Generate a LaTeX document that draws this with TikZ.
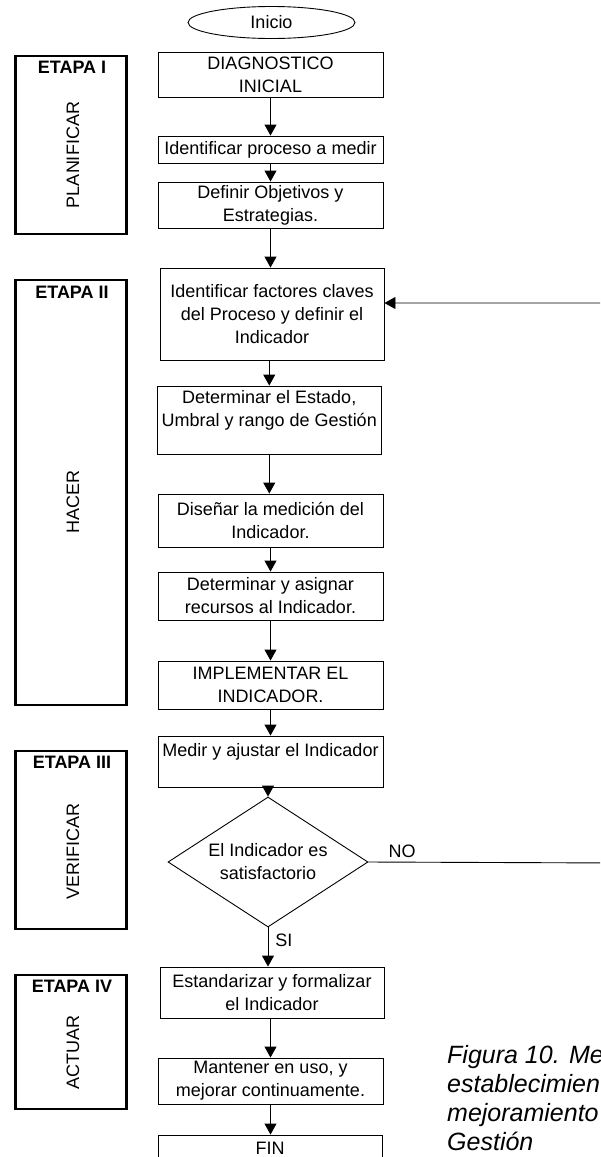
\documentclass[tikz,border=0pt]{standalone}
\usepackage{fontspec}
\setmainfont{Liberation Sans}
\usetikzlibrary{shapes.geometric,arrows.meta}
\begin{document}
\begin{tikzpicture}[x=1pt,y=-1pt,
  boxfont/.style={font=\fontsize{18}{23}\selectfont},
  flowbox/.style={draw, line width=0.9pt, rectangle, inner sep=1pt, align=center,
    boxfont, minimum width=225pt},
  stagebox/.style={draw, line width=2.7pt, minimum width=111pt},
  stagetitle/.style={font=\bfseries\fontsize{18}{22}\selectfont, inner sep=0pt},
  stagename/.style={rotate=90, font=\fontsize{18}{22}\selectfont, inner sep=0pt},
  flow/.style={line width=0.9pt, -{Triangle[length=11pt,width=12pt]}},
  ]
\useasboundingbox (0,0) rectangle (600,1157);
\clip (0,0) rectangle (600,1157);

% stage frames on the left
\node[stagebox, minimum height=178pt] (s1) at (71,145) {};
\node[stagetitle] (s1t) at (72,67) {ETAPA I};
\node[stagename] (s1n) at (73,155) {PLANIFICAR};

\node[stagebox, minimum height=425pt] (s2) at (71,492.5) {};
\node[stagetitle] (s2t) at (72,292) {ETAPA II};
\node[stagename] (s2n) at (73,502) {HACER};

\node[stagebox, minimum height=178pt] (s3) at (71,840) {};
\node[stagetitle] (s3t) at (72,762) {ETAPA III};
\node[stagename] (s3n) at (73,851) {VERIFICAR};

\node[stagebox, minimum height=134pt] (s4) at (71,1042) {};
\node[stagetitle] (s4t) at (72,986) {ETAPA IV};
\node[stagename] (s4n) at (73,1052) {ACTUAR};

% flow of activities
\node[ellipse, draw, line width=0.9pt, minimum width=167pt, minimum height=32pt,
  inner sep=0pt, boxfont] (inicio) at (271.5,22.5) {Inicio};
\node[flowbox, minimum height=45pt] (diag) at (270.5,74.5) {DIAGNOSTICO\\INICIAL};
\node[flowbox, minimum height=27pt] (ident) at (270.5,149.5) {Identificar proceso a medir};
\node[flowbox, minimum height=46pt] (obj) at (270.5,205) {Definir Objetivos y\\Estrategias.};
\node[flowbox, minimum width=224pt, minimum height=92pt] (fact) at (272,314)
  {Identificar factores claves\\del Proceso y definir el\\Indicador};
\node[flowbox, minimum width=224.5pt, minimum height=68pt] (estado) at (269.25,420)
  {Determinar el Estado,\\Umbral y rango de Gestión\\~};
\node[flowbox, minimum height=53pt] (disenar) at (270.5,520.5) {Diseñar la medición del\\Indicador.};
\node[flowbox, minimum height=48pt] (recursos) at (270.5,596) {Determinar y asignar\\recursos al Indicador.};
\node[flowbox, minimum height=48pt] (impl) at (270.5,685) {IMPLEMENTAR EL\\INDICADOR.};
\node[flowbox, minimum height=51pt] (medir) at (270.5,761.5) {Medir y ajustar el Indicador\\~};
\node[diamond, draw, line width=0.9pt, shape aspect=1.54, minimum width=200pt,
  minimum height=130pt, inner sep=0pt, align=center, boxfont] (dec) at (268,862)
  {El Indicador es\\satisfactorio};
\node[flowbox, minimum width=224pt, minimum height=51pt] (std) at (272,992.5)
  {Estandarizar y formalizar\\el Indicador};
\node[flowbox, minimum height=46pt] (mant) at (270.5,1081) {Mantener en uso, y\\mejorar continuamente.};
\node[flowbox, minimum width=224pt, minimum height=27pt] (fin) at (270,1148.5) {FIN};

% connectors
\draw[flow] (diag.south) -- (diag.south |- ident.north);
\draw[flow] (ident.south) -- (ident.south |- obj.north);
\draw[flow] (obj.south) -- (obj.south |- fact.north);
\draw[flow] (estado.north |- fact.south) -- (estado.north);
\draw[flow] (estado.south) -- (estado.south |- disenar.north);
\draw[flow] (disenar.south) -- (disenar.south |- recursos.north);
\draw[flow] (recursos.south) -- (recursos.south |- impl.north);
\draw[flow] (impl.south) -- (impl.south |- medir.north);
\draw[flow] (dec.north |- medir.south) -- (dec.north);
\draw[flow] (dec.south) -- (dec.south |- std.north)
  node[pos=0.33, anchor=west, inner sep=0pt, xshift=7pt, boxfont] (si) {SI};
\draw[flow] (mant.north |- std.south) -- (mant.north);
\draw[flow] (mant.south) -- (mant.south |- fin.north);

% return path when the indicator is not satisfactory
\coordinate (loopR) at (620,863);
\coordinate (loopT) at (620,303);
\draw[flow] (dec.east) -- (loopR) -- (loopT) -- (loopT -| fact.east);
\node[boxfont, inner sep=0pt] (no) at (402,851) {NO};

% caption
\node[anchor=north west, inner sep=0pt, align=left,
  font=\itshape\fontsize{25}{29}\selectfont] (cap) at (447,1045)
  {Figura 10. Me\\establecimien\\mejoramiento\\Gestión};
\end{tikzpicture}
\end{document}
